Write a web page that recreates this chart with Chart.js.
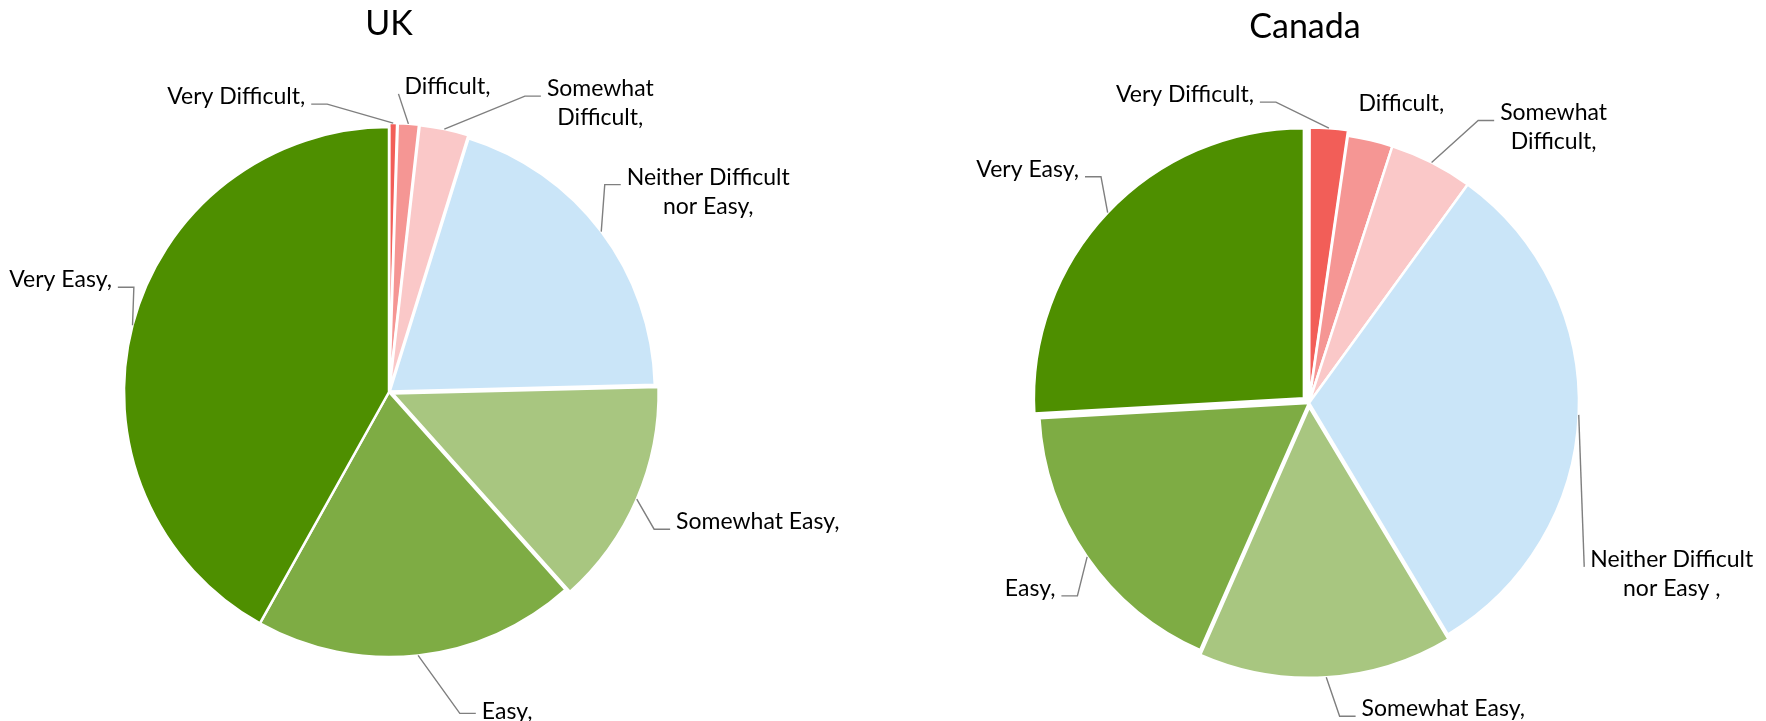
<!DOCTYPE html>
<html><head><meta charset="utf-8">
<script src="https://cdn.jsdelivr.net/npm/chart.js@4.4.1/dist/chart.umd.min.js"></script>
<style>
html,body{margin:0;padding:0;background:#fff;}
#wrap{position:relative;width:1766px;height:721px;}
.box{position:absolute;top:0;height:721px;width:883px;}
</style></head><body>
<div id="wrap">
<div class="box" style="left:0"><canvas id="uk"></canvas></div>
<div class="box" style="left:883px"><canvas id="ca"></canvas></div>
</div>
<script>
// ---- data ----
const categories = ["Very Difficult", "Difficult", "Somewhat Difficult", "Neither Difficult nor Easy", "Somewhat Easy", "Easy", "Very Easy"];
const ukLabelLines = [["Very Difficult,"], ["Difficult,"], ["Somewhat", "Difficult,"], ["Neither Difficult", "nor Easy,"], ["Somewhat Easy,"], ["Easy,"], ["Very Easy,"]];
const caLabelLines = [["Very Difficult,"], ["Difficult,"], ["Somewhat", "Difficult,"], ["Neither Difficult", "nor Easy ,"], ["Somewhat Easy,"], ["Easy,"], ["Very Easy,"]];
const ukValues = [0.5, 1.3, 3.0, 19.8, 13.8, 19.7, 41.9];
const caValues = [2.3, 2.7, 5.0, 31.4, 15.2, 17.5, 25.9];
const chartTitles = ["UK", "Canada"];

// ---- style ----
const sliceColors = ["#F25E58", "#F59694", "#FAC8C8", "#CAE5F8", "#A8C680", "#7EAC44", "#4E8F00"];
const FONT = "Lato, 'Noto Sans', sans-serif";

const labelPlugin = {
  id: 'pieLabels',
  afterDatasetsDraw(chart, args, opts) {
    const ctx = chart.ctx;
    const meta = chart.getDatasetMeta(0);
    ctx.save();
    ctx.font = opts.size + 'px ' + FONT;
    ctx.textAlign = 'center';
    ctx.textBaseline = 'alphabetic';
    meta.data.forEach((arc, i) => {
      const p = arc.getProps(['x', 'y', 'startAngle', 'endAngle', 'outerRadius', 'circumference'], true);
      const mid = (p.startAngle + p.endAngle) / 2;
      const off = (arc.options.offset || 0) / 4;
      const fix = 1 - Math.sin(Math.min(Math.PI, p.circumference || 0));
      const rr = p.outerRadius + off + off * fix;
      const ax = p.x + Math.cos(mid) * rr, ay = p.y + Math.sin(mid) * rr;
      const pl = opts.place[i];
      const cx = ax + pl.dx, by = ay + pl.dy;
      const lines = opts.lines[i];
      let w = 0;
      lines.forEach(l => { w = Math.max(w, ctx.measureText(l).width); });
      ctx.fillStyle = '#000';
      lines.forEach((l, k) => ctx.fillText(l, cx, by + k * opts.lineHeight));
      if (pl.leader !== false) {
        const left = cx - w / 2, right = cx + w / 2;
        const side = cx > ax ? -1 : 1;
        const sx = side < 0 ? left - opts.gap : right + opts.gap;
        const sy = by + (pl.sy || 0);
        const stub = pl.stub === undefined ? opts.stub : pl.stub;
        ctx.beginPath();
        ctx.moveTo(sx, sy);
        ctx.lineTo(sx + side * stub, sy);
        ctx.lineTo(ax, ay);
        ctx.strokeStyle = '#7f7f7f';
        ctx.lineWidth = 1.4;
        ctx.stroke();
      }
    });
    ctx.font = opts.titleSize + 'px ' + FONT;
    ctx.fillStyle = '#000';
    ctx.fillText(opts.title, meta.data[0].x + (opts.titleDx || 0), opts.titleY);
    ctx.restore();
  }
};

function makePie(id, values, lines, title, radius, offsets, padding, place, titleY, titleDx) {
  return new Chart(document.getElementById(id), {
    type: 'pie',
    data: {
      labels: categories,
      datasets: [{
        data: values,
        backgroundColor: sliceColors,
        borderColor: '#ffffff',
        borderWidth: 2.5,
        offset: offsets
      }]
    },
    options: {
      responsive: true,
      maintainAspectRatio: false,
      animation: false,
      radius: radius,
      layout: { padding: padding },
      plugins: {
        legend: { display: false },
        tooltip: { enabled: false },
        title: { display: false },
        pieLabels: {
          lines: lines, place: place, size: 23, lineHeight: 29, gap: 6, stub: 16,
          title: title, titleSize: 34, titleY: titleY, titleDx: titleDx
        }
      }
    },
    plugins: [labelPlugin]
  });
}

const ukPlace = [
  { dx: -157, dy: -19 },
  { dx: 39, dy: -30, stub: 0 },
  { dx: 156, dy: -33 },
  { dx: 107, dy: -47 },
  { dx: 121, dy: 30 },
  { dx: 89, dy: 64, sy: -6 },
  { dx: -72, dy: -38 }
];
const caPlace = [
  { dx: -144, dy: -26 },
  { dx: 31, dy: -29, leader: false },
  { dx: 122, dy: -42 },
  { dx: 93, dy: 152, stub: 0 },
  { dx: 117, dy: 39 },
  { dx: -57, dy: 39 },
  { dx: -80, dy: -36 }
];

makePie('uk', ukValues, ukLabelLines, chartTitles[0], 265, [8, 8, 8, 4, 16, 0, 0],
  { left: 0, right: 105, top: 63, bottom: 0 }, ukPlace, 35, 0);
makePie('ca', caValues, caLabelLines, chartTitles[1], 270, [12, 0, 0, 0, 16, 0, 28],
  { left: 0, right: 31, top: 85, bottom: 0 }, caPlace, 38, -4);
</script>
</body></html>
